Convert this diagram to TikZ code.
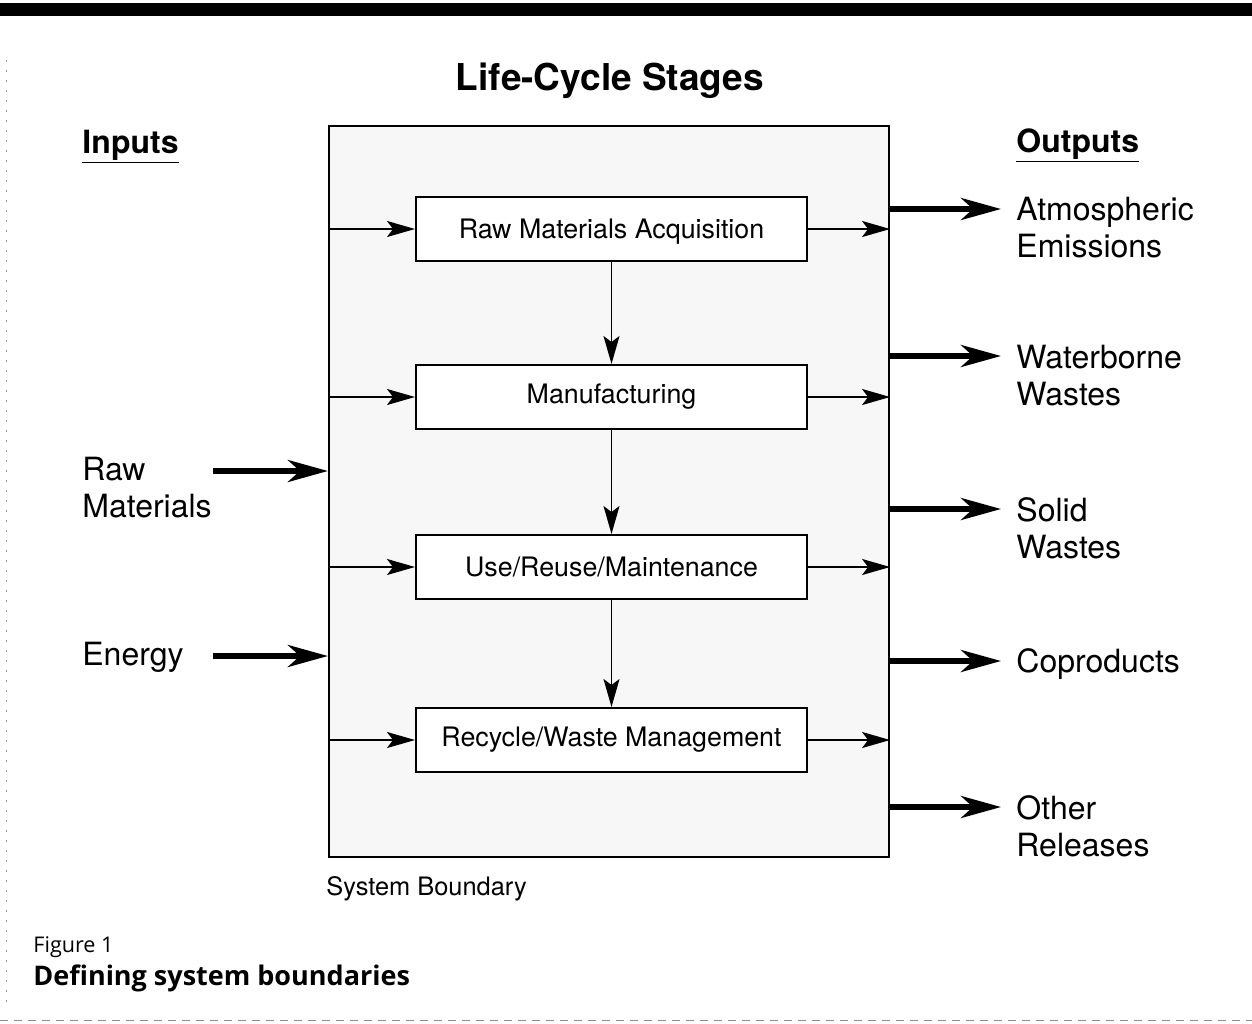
\documentclass[tikz,border=0pt]{standalone}
\usepackage{fontspec}
\setmainfont{TeX Gyre Heros}
\newfontfamily\capfont{Open Sans}
\usetikzlibrary{arrows.meta}
\begin{document}
\begin{tikzpicture}[x=0.5pt,y=-0.5pt,
  stagebox/.style={draw, line width=1pt, fill=white, minimum width=195.5pt, minimum height=32pt, inner sep=0pt, font=\fontsize{13.4}{15}\selectfont},
  boundary/.style={draw, line width=1.1pt, fill=black!3, minimum width=280pt, minimum height=365.5pt, inner sep=0pt},
  thinarrow/.style={line width=0.9pt, -{Stealth[length=14pt,width=8pt,inset=3pt]}},
  thickarrow/.style={line width=2.8pt, -{Stealth[length=20pt,width=11pt,inset=6pt]}},
  lbl/.style={font=\fontsize{16}{18.5}\selectfont, align=left, inner sep=0pt},
  hdr/.style={font=\bfseries\fontsize{16}{18.5}\selectfont, inner sep=0pt, anchor=base west}]
\useasboundingbox (0,0) rectangle (1252,1023);
% page rules
\fill (0,3) rectangle (1252,16);
\draw[black!45, line width=0.5pt, dash pattern=on 4pt off 3pt] (0,1020) -- (1252,1020);
\draw[black!40, line width=0.4pt, dash pattern=on 1pt off 4pt] (6,60) -- (6,1005);
% title and headers
\node[font=\bfseries\fontsize{18.5}{22}\selectfont, inner sep=0pt, anchor=base] (title) at (610,90) {Life-Cycle Stages};
\node[hdr] (inputs) at (82,153) {\underline{Inputs}};
\node[hdr] (outputs) at (1016,152) {\underline{Outputs}};
% system boundary
\node[boundary] (sb) at (609,491.5) {};
\node[font=\fontsize{12.7}{14}\selectfont, inner sep=0pt, anchor=base west] (sbl) at (326,895) {System Boundary};
% stages
\node[stagebox, text depth=0.5pt] (s1) at (611.5,229) {Raw Materials Acquisition};
\node[stagebox] (s2) at (611.5,397) {Manufacturing};
\node[stagebox] (s3) at (611.5,567) {Use/Reuse/Maintenance};
\node[stagebox] (s4) at (611.5,740) {Recycle/Waste Management};
\foreach \s in {s1,s2,s3,s4}{
  \draw[thinarrow] (sb.west |- \s) -- (\s.west);
  \draw[thinarrow] (\s.east) -- (sb.east |- \s);
}
\draw[thinarrow] (s1.south) -- (s2.north);
\draw[thinarrow] (s2.south) -- (s3.north);
\draw[thinarrow] (s3.south) -- (s4.north);
% inputs
\node[lbl, anchor=west] (rm) at (82,488) {Raw\\Materials};
\node[lbl, anchor=base west] (en) at (82,665.5) {Energy};
\coordinate (rmt) at (213,471);
\coordinate (ent) at (213,656);
\draw[thickarrow] (rmt) -- (sb.west |- rmt);
\draw[thickarrow] (ent) -- (sb.west |- ent);
% outputs
\coordinate (o1) at (1001,209);
\coordinate (o2) at (1001,356);
\coordinate (o3) at (1001,509);
\coordinate (o4) at (1001,661);
\coordinate (o5) at (1001,807);
\foreach \o in {o1,o2,o3,o4,o5}{
  \draw[thickarrow] (sb.east |- \o) -- (\o);
}
\node[lbl, anchor=west] (l1) at (1016,228) {Atmospheric\\Emissions};
\node[lbl, anchor=west] (l2) at (1016,376) {Waterborne\\Wastes};
\node[lbl, anchor=west] (l3) at (1016,528) {Solid\\Wastes};
\node[lbl, anchor=base west] (l4) at (1016,672.5) {Coproducts};
\node[lbl, anchor=west] (l5) at (1016,826) {Other\\Releases};
% caption
\node[font=\capfont\fontsize{10.8}{13}\selectfont, inner sep=0pt, anchor=base west] (fig) at (33,952) {Figure 1};
\node[font=\capfont\bfseries\fontsize{13.5}{16}\selectfont, inner sep=0pt, anchor=base west] (cap) at (33,985) {Defining system boundaries};
\end{tikzpicture}
\end{document}
